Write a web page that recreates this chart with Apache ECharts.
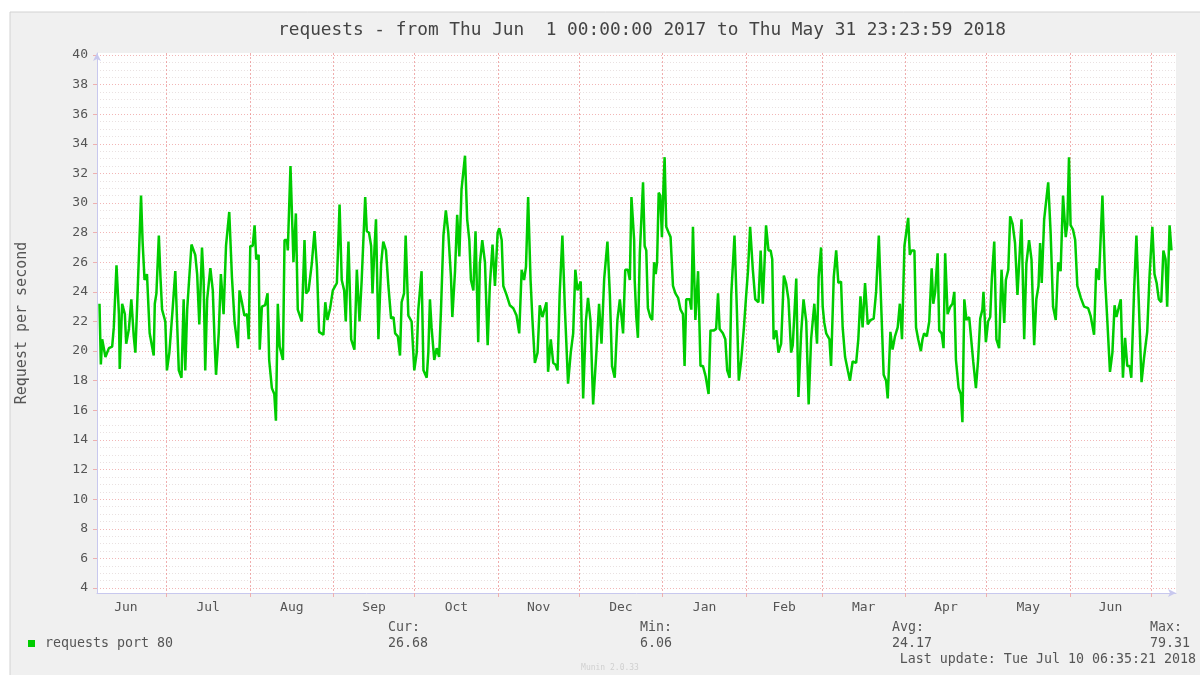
<!DOCTYPE html>
<html><head><meta charset="utf-8">
<script src="https://cdn.jsdelivr.net/npm/echarts@6/dist/echarts.min.js"></script>
<style>html,body{margin:0;padding:0;background:#fff}#c{width:1200px;height:675px}</style>
</head><body><div id="c"></div>
<script>
// ---- data ----
const titleText = 'requests - from Thu Jun  1 00:00:00 2017 to Thu May 31 23:23:59 2018';
const yAxisName = 'Request per second';
const legendName = 'requests port 80';
const statNames = ['Cur:', 'Min:', 'Avg:', 'Max:'];
const statValues = ['26.68', '6.06', '24.17', '79.31'];
const lastUpdate = 'Last update: Tue Jul 10 06:35:21 2018';
const footerText = 'Munin 2.0.33';
const monthLabels = ['Jun','Jul','Aug','Sep','Oct','Nov','Dec','Jan','Feb','Mar','Apr','May','Jun'];
const monthStarts = ['2017-06-01','2017-07-01','2017-08-01','2017-09-01','2017-10-01','2017-11-01','2017-12-01',
  '2018-01-01','2018-02-01','2018-03-01','2018-04-01','2018-05-01','2018-06-01','2018-07-01'];
const yTicks = [4,6,8,10,12,14,16,18,20,22,24,26,28,30,32,34,36,38,40];
// days since 2017-06-01 00:00 UTC
const dayOffsets = [
5.2,5.7,6.2,7.4,8.7,9.9,10.5,11.5,12.4,12.7,13.6,14.6,15.1,16.1,17.0,17.9,18.5,19.1,20.6,21.2,21.9,22.8,23.8,24.7,25.3,25.7,26.3,27.2,27.8,28.4,29.6,
30.2,31.1,32.3,33.3,33.9,34.6,35.6,36.4,37.0,37.7,39.3,40.7,41.4,42.2,43.2,43.8,44.4,45.1,46.3,47.2,47.9,48.4,49.4,50.2,51.2,52.1,53.3,54.3,55.3,56.5,57.1,58.0,58.9,59.9,60.5,
61.1,62.0,62.7,63.3,64.2,64.6,65.4,66.6,67.5,68.1,69.1,70.0,70.6,71.3,72.0,72.6,73.2,73.8,74.7,75.0,76.0,77.1,78.0,78.7,80.2,81.2,81.8,82.7,83.9,84.9,85.8,86.6,88.2,88.9,89.7,90.7,91.7,
93.2,94.2,95.0,95.9,96.5,97.5,98.5,99.7,100.6,101.6,102.4,103.7,
104.3,105.1,105.9,106.4,107.1,107.7,108.6,109.6,110.4,111.4,112.3,113.3,114.2,114.8,115.8,116.6,117.2,118.1,118.7,119.7,120.9,121.9,122.8,123.4,124.0,124.6,125.3,126.5,127.1,127.7,128.3,
129.3,130.2,131.1,131.8,132.7,133.6,134.5,135.5,136.0,137.0,137.8,138.6,139.4,140.7,141.5,142.3,142.9,143.8,144.6,145.6,146.2,147.1,148.1,149.1,149.9,150.9,151.8,152.8,153.4,154.3,154.9,
156.1,157.3,158.6,159.8,160.8,161.7,162.6,163.3,164.1,165.0,165.7,166.6,167.6,168.4,169.4,170.0,170.9,171.5,172.5,173.4,174.2,175.0,175.8,176.8,177.7,178.9,179.9,180.8,181.6,182.4,
183.6,184.5,185.5,186.3,187.2,188.2,189.4,190.4,191.3,192.3,193.5,194.4,195.2,196.2,197.2,198.1,199.3,200.1,201.1,201.8,202.4,203.4,
203.6,204.2,204.8,205.5,206.3,206.7,207.3,207.9,208.5,209.4,210.1,210.8,211.4,211.9,212.5,213.1,213.7,214.3,214.7,215.3,216.2,216.9,217.8,218.7,219.7,220.6,221.5,222.1,222.7,224.0,
224.6,225.2,226.1,227.1,228.0,228.9,229.9,231.0,231.7,233.0,233.8,234.5,235.1,236.3,237.2,237.9,238.8,239.4,240.6,241.5,242.2,243.1,244.1,244.9,245.6,246.4,247.4,248.3,249.5,250.3,
251.1,251.7,252.3,253.2,254.0,254.6,255.1,256.1,256.9,257.9,258.9,259.7,260.6,261.6,262.2,263.5,264.3,265.3,266.2,267.2,268.1,269.0,270.2,271.2,271.8,272.7,273.3,273.9,274.6,275.8,
276.4,277.4,278.3,279.1,280.1,280.7,281.6,282.6,283.4,284.4,285.7,286.5,287.3,288.1,289.0,290.0,291.0,292.2,293.1,294.1,294.9,295.9,296.8,297.4,298.4,299.2,300.1,301.1,301.9,302.7,303.6,
305.0,305.6,306.3,307.3,307.9,308.7,309.7,310.3,310.9,311.9,312.8,313.7,314.3,315.0,315.9,316.5,317.4,318.1,318.7,319.6,320.6,321.4,322.1,322.7,323.7,324.5,325.1,325.8,326.6,327.6,
328.2,329.1,330.1,330.9,331.7,332.5,332.9,333.8,334.6,335.4,336.0,336.9,337.7,338.7,339.6,340.6,341.2,342.1,342.8,343.7,344.6,345.5,346.1,347.0,348.0,348.8,349.8,350.7,351.7,352.5,
353.3,353.9,354.5,355.4,356.0,356.9,357.8,358.7,359.7,360.6,361.5,362.4,363.4,364.0,364.6,365.2,366.1,366.9,367.7,369.0,370.2,371.7,372.6,373.9,374.7,375.7,376.4,377.0,378.0,378.8,
379.8,380.7,381.5,382.2,382.8,383.8,384.6,385.4,386.2,387.1,387.7,388.7,389.6,390.5,391.5,392.4,393.6,394.5,395.5,396.3,397.1,397.9,398.8,399.6,400.4,401.0,401.9,402.6
];
const requests = [
23.2,19.1,20.8,19.6,20.2,20.3,21.6,25.8,22.5,18.8,23.2,22.5,20.5,21.5,23.5,21.0,19.9,22.8,30.5,27.3,24.8,25.2,21.2,20.3,19.7,23.2,23.9,27.8,25.0,22.8,22.0,
18.7,19.9,22.8,25.4,22.3,18.7,18.2,23.5,18.7,22.8,27.2,26.5,25.2,21.8,27.0,24.8,18.7,23.5,25.6,24.1,20.5,18.4,21.2,25.2,22.5,27.1,29.4,25.0,21.9,20.2,24.1,23.3,22.4,22.5,20.8,
27.1,27.1,28.5,26.2,26.5,20.1,23.0,23.1,23.9,19.4,17.5,17.1,15.3,23.2,20.3,20.4,19.4,27.5,27.5,26.8,32.5,26.0,29.3,22.8,22.0,27.5,23.9,24.1,25.9,28.1,25.7,21.3,21.1,23.3,22.1,22.9,24.1,
24.6,29.9,24.8,24.1,22.0,27.4,20.8,20.1,25.5,22.0,24.8,30.4,
28.1,28.0,27.1,23.9,26.8,28.9,20.8,25.9,27.4,26.8,24.4,22.2,22.3,21.2,21.0,19.7,23.3,23.9,27.8,22.4,22.0,18.7,19.9,22.8,22.8,25.4,18.7,18.2,19.9,23.5,21.6,
19.4,20.2,19.6,22.8,27.8,29.5,28.0,25.0,22.3,25.4,29.2,26.4,30.9,33.2,28.9,27.5,24.8,24.1,28.1,20.6,25.9,27.5,26.0,20.4,24.4,27.2,24.4,28.0,28.3,27.5,24.4,
23.8,23.1,22.9,22.4,21.2,25.5,24.8,25.7,30.4,24.8,22.1,19.2,19.9,23.1,22.3,22.7,23.3,18.6,20.8,19.2,19.1,18.7,23.9,27.8,23.0,17.8,19.9,21.2,25.5,24.1,
24.7,16.8,22.0,23.6,22.1,16.4,19.9,23.2,20.5,24.9,27.4,23.8,19.0,18.2,22.1,23.5,21.2,25.5,25.5,24.8,30.4,27.5,
24.8,22.3,20.9,26.6,29.8,31.4,27.1,26.8,22.9,22.3,22.1,26.0,25.2,26.0,30.7,30.5,27.7,31.3,33.1,28.4,28.0,27.7,24.4,23.9,23.6,22.8,22.5,19.0,23.5,23.5,
22.8,28.4,22.1,25.4,19.0,19.0,18.3,17.1,21.4,21.4,21.5,23.9,21.5,21.2,20.8,18.7,18.2,23.8,27.8,22.7,18.0,19.4,21.6,23.7,25.4,28.4,25.5,23.5,23.3,26.8,
23.2,25.8,28.5,26.8,26.8,26.2,20.8,21.4,19.9,20.5,25.1,24.6,23.5,19.9,20.4,24.9,16.9,21.2,23.5,22.0,16.4,20.8,23.2,20.5,25.0,27.0,23.0,21.9,21.2,20.8,
19.0,25.0,26.8,24.6,24.7,21.6,19.6,18.7,18.0,19.3,19.2,20.8,23.7,21.6,24.6,21.8,22.1,22.2,24.0,27.8,23.5,18.4,18.0,16.8,21.3,20.1,21.0,21.6,23.2,20.8,27.1,
29.0,26.5,26.8,26.8,21.6,20.8,20.0,20.8,21.2,21.0,22.0,25.6,23.2,24.0,26.6,21.4,21.2,20.2,26.6,22.5,23.0,23.2,24.0,19.4,17.5,17.1,15.2,23.5,22.1,22.3,
22.2,19.3,17.5,19.4,22.2,22.8,24.0,20.6,22.0,22.3,24.9,27.4,20.8,20.2,25.5,21.9,24.8,25.5,29.1,28.6,27.3,23.8,23.8,28.9,20.8,25.9,27.5,26.2,20.4,23.5,
24.4,27.3,24.6,28.9,28.9,31.4,28.0,23.0,22.1,26.0,25.4,30.5,27.7,28.6,33.1,28.5,28.2,27.5,24.4,23.6,23.0,22.9,22.4,21.1,25.6,24.8,24.8,30.5,24.8,22.1,
18.6,19.9,23.1,22.3,22.3,23.5,18.2,20.9,19.0,19.0,18.2,23.9,27.8,23.2,17.9,19.5,21.3,25.2,28.4,25.2,24.6,23.5,23.3,26.8,26.2,23.0,28.5,26.8
];

// ---- derived (x axis measured in days since 2017-06-01 00:00 UTC) ----
const DAY = 86400000;
const START = Date.UTC(2017, 5, 1);
const END = Date.UTC(2018, 6, 10, 6, 35, 21);
const X_MAX = (END - START) / DAY;
const X_MIN = X_MAX - 400;
const seriesData = dayOffsets.map((d, i) => [d, requests[i]]);
const monthDays = monthStarts.map(s => (Date.parse(s + 'T00:00:00Z') - START) / DAY);
const tickValues = monthDays.filter(t => t > X_MIN && t < X_MAX);
const labelValues = monthLabels.map((_, i) => (monthDays[i] + monthDays[i + 1]) / 2);

const MONO = 'DejaVu Sans Mono';
const TXT = '#555';

const chart = echarts.init(document.getElementById('c'), null, {renderer: 'canvas'});

const statX = [388, 640, 892, 1150];
const graphics = [
  {type: 'rect', z: -10, silent: true, shape: {x: 10, y: 12, width: 1200, height: 680},
   style: {fill: '#f0f0f0', stroke: '#d2d2d2', lineWidth: 1}},
  {type: 'text', x: 642, y: 30, style: {text: titleText, font: '17.8px "' + MONO + '"', fill: '#444', align: 'center', verticalAlign: 'middle'}},
  {type: 'text', x: 22, y: 323, rotation: Math.PI / 2, style: {text: yAxisName, font: '15px "' + MONO + '"', fill: TXT, align: 'center', verticalAlign: 'middle'}},
  {type: 'rect', shape: {x: 28, y: 640, width: 7, height: 7}, style: {fill: '#00cc00'}},
  {type: 'text', x: 45, y: 643.5, style: {text: legendName, font: '13.3px "' + MONO + '"', fill: TXT, verticalAlign: 'middle'}},
  {type: 'text', x: 1196, y: 660, style: {text: lastUpdate, font: '13.3px "' + MONO + '"', fill: TXT, align: 'right', verticalAlign: 'middle'}},
  {type: 'text', x: 610, y: 668, style: {text: footerText, font: '8px "' + MONO + '"', fill: '#d0d0d0', align: 'center', verticalAlign: 'middle'}}
];
statNames.forEach((n, i) => {
  graphics.push({type: 'text', x: statX[i], y: 628, style: {text: n, font: '13.3px "' + MONO + '"', fill: TXT, verticalAlign: 'middle'}});
  graphics.push({type: 'text', x: statX[i], y: 643.5, style: {text: statValues[i], font: '13.3px "' + MONO + '"', fill: TXT, verticalAlign: 'middle'}});
});

const option = {
  animation: false,
  backgroundColor: '#ffffff',
  graphic: {elements: graphics},
  grid: [
    {left: 97, right: 24, top: 53, bottom: 82, show: true, backgroundColor: '#ffffff', borderWidth: 0},
    {left: 97, right: 24, top: 55, bottom: 87, show: false}
  ],
  xAxis: [
    {
      type: 'value', gridIndex: 0, min: X_MIN, max: X_MAX,
      axisLine: {show: true, lineStyle: {color: '#c8c8ee', width: 1}, symbol: ['none', 'arrow'], symbolSize: [6, 8]},
      axisTick: {show: true, customValues: tickValues, length: 4, lineStyle: {color: '#eeb0b0'}},
      axisLabel: {
        show: true, customValues: labelValues, color: TXT, fontFamily: MONO, fontSize: 13, margin: 8, hideOverlap: false,
        showMinLabel: true, showMaxLabel: true,
        formatter: function (v) {
          let best = 0, bd = Infinity;
          labelValues.forEach((lv, i) => { const d = Math.abs(lv - v); if (d < bd) { bd = d; best = i; } });
          return monthLabels[best];
        }
      },
      splitLine: {show: true, lineStyle: {color: 'rgba(230,120,120,0.6)', width: 1, type: [2, 2]}}
    },
    {type: 'value', gridIndex: 1, min: X_MIN, max: X_MAX, show: false, splitLine: {show: false}}
  ],
  yAxis: [
    {
      type: 'value', gridIndex: 0, min: 0, max: 1,
      axisLine: {show: true, lineStyle: {color: '#c8c8ee', width: 1}, symbol: ['none', 'arrow'], symbolSize: [6, 8]},
      axisTick: {show: false}, axisLabel: {show: false}, splitLine: {show: false}
    },
    {
      type: 'value', gridIndex: 1, min: yTicks[0], max: yTicks[yTicks.length - 1], interval: 2,
      axisLine: {show: false},
      axisTick: {show: true, length: 4, lineStyle: {color: '#eeb0b0'}},
      axisLabel: {color: TXT, fontFamily: MONO, fontSize: 13, margin: 9},
      splitLine: {show: true, lineStyle: {color: 'rgba(230,110,110,0.5)', width: 1, type: [1, 2]}},
      minorTick: {show: true, splitNumber: 4, length: 0, lineStyle: {width: 0}},
      minorSplitLine: {show: true, lineStyle: {color: 'rgba(200,180,180,0.4)', width: 1, type: [1, 2]}}
    }
  ],
  series: [{
    type: 'line', name: legendName, xAxisIndex: 1, yAxisIndex: 1,
    data: seriesData, showSymbol: false, symbol: 'none',
    lineStyle: {color: '#00cc00', width: 2.5}, itemStyle: {color: '#00cc00'}, z: 5
  }]
};
chart.setOption(option);
</script>
</body></html>
